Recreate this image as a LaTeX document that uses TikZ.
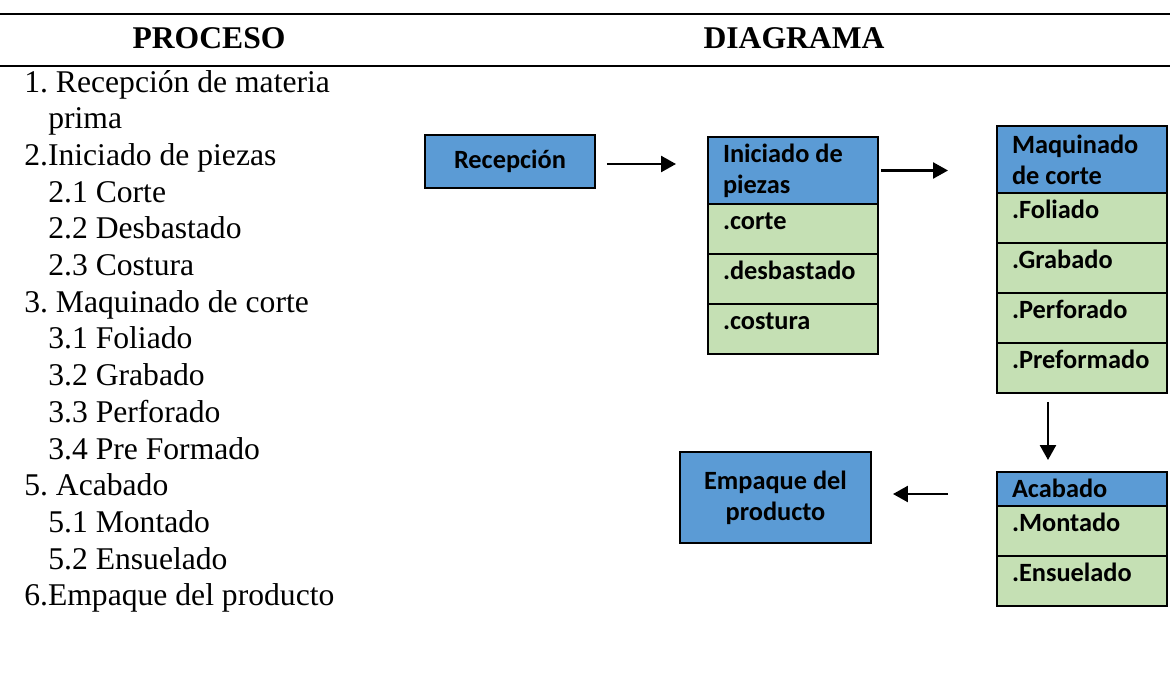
\documentclass[tikz,border=0pt]{standalone}
\usepackage{fontspec}
\setmainfont{Liberation Serif}
\newfontfamily\boxfont{Carlito}
\usetikzlibrary{positioning,arrows.meta}
\definecolor{hdblue}{HTML}{5B9BD5}
\definecolor{subgreen}{HTML}{C5E0B4}
\frenchspacing

\begin{document}
\begin{tikzpicture}[x=0.02cm, y=-0.02cm,
  box/.style={draw, line width=1.1pt, inner xsep=0.3cm, inner ysep=0pt, outer sep=0pt,
    font=\boxfont\bfseries\fontsize{15}{17.6}\selectfont},
  hd/.style={box, fill=hdblue, text width=2.8cm, align=flush left},
  sub/.style={box, fill=subgreen, text width=2.8cm, align=flush left, text height=0.52cm, text depth=0.48cm},
  solo/.style={box, fill=hdblue, align=center},
  arr/.style={line width=1.4pt, -{Triangle[length=0.3cm,width=0.32cm]}},
  rule/.style={line width=1.4pt},
  item/.style={anchor=base west, inner sep=0pt, font=\fontsize{18}{21}\selectfont},
  title/.style={font=\bfseries\fontsize{18}{21}\selectfont}]
\useasboundingbox (0,0) rectangle (1170,683);

% Table head
\draw[rule] (0,14) -- (1170,14);
\draw[rule] (0,66) -- (1170,66);
\node[title] (proc) at (209,38) {PROCESO};
\node[title] (diag) at (794,38) {DIAGRAMA};

% Process list
\foreach \i/\x/\t in {0/24/{1. Recepción de materia}, 1/48/prima, 2/24/{2.Iniciado de piezas},
    3/48/{2.1 Corte}, 4/48/{2.2 Desbastado}, 5/48/{2.3 Costura}, 6/24/{3. Maquinado de corte},
    7/48/{3.1 Foliado}, 8/48/{3.2 Grabado}, 9/48/{3.3 Perforado}, 10/48/{3.4 Pre Formado},
    11/24/{5. Acabado}, 12/48/{5.1 Montado}, 13/48/{5.2 Ensuelado}, 14/24/{6.Empaque del producto}} {
  \node[item] (it\i) at (\x, {92+36.7*\i}) {\t};
}

% Recepcion
\node[solo, minimum width=3.4cm, minimum height=1.06cm] (recep) at (510,161.5) {Recepción};

% Iniciado de piezas
\node[hd, minimum height=1.34cm, anchor=north west] (inich) at (708,137) {Iniciado de\\piezas};
\node[sub, below=0pt of inich] (inic1) {.corte};
\node[sub, below=0pt of inic1] (inic2) {.desbastado};
\node[sub, below=0pt of inic2] (inic3) {.costura};

% Maquinado de corte
\node[hd, minimum height=1.34cm, anchor=north west] (maqh) at (997,126) {Maquinado\\de corte};
\node[sub, below=0pt of maqh] (maq1) {.Foliado};
\node[sub, below=0pt of maq1] (maq2) {.Grabado};
\node[sub, below=0pt of maq2] (maq3) {.Perforado};
\node[sub, below=0pt of maq3] (maq4) {.Preformado};

% Acabado
\node[hd, text height=0.5cm, text depth=0.18cm, anchor=north west] (acabh) at (997,472) {Acabado};
\node[sub, below=0pt of acabh] (acab1) {.Montado};
\node[sub, below=0pt of acab1] (acab2) {.Ensuelado};

% Empaque
\node[solo, minimum width=3.82cm, minimum height=1.82cm] (emp) at (775.5,497.5) {Empaque del\\producto};

% Flow
\draw[arr, shorten <=0.24cm, shorten >=0.64cm] ([yshift=-0.05cm]recep.east) -- ([yshift=-0.05cm]recep.east -| inich.west);
\draw[arr, shorten <=0.06cm, shorten >=0.98cm] (inich.east) -- (inich.east -| maqh.west);
\draw[arr, shorten <=0.18cm, shorten >=0.24cm] ([xshift=-0.68cm]maq4.south) -- ([xshift=-0.68cm]acabh.north);
\draw[arr, shorten <=0.98cm, shorten >=0.44cm] ([yshift=0.07cm]acabh.west |- emp.east) -- ([yshift=0.07cm]emp.east);

\end{tikzpicture}
\end{document}
